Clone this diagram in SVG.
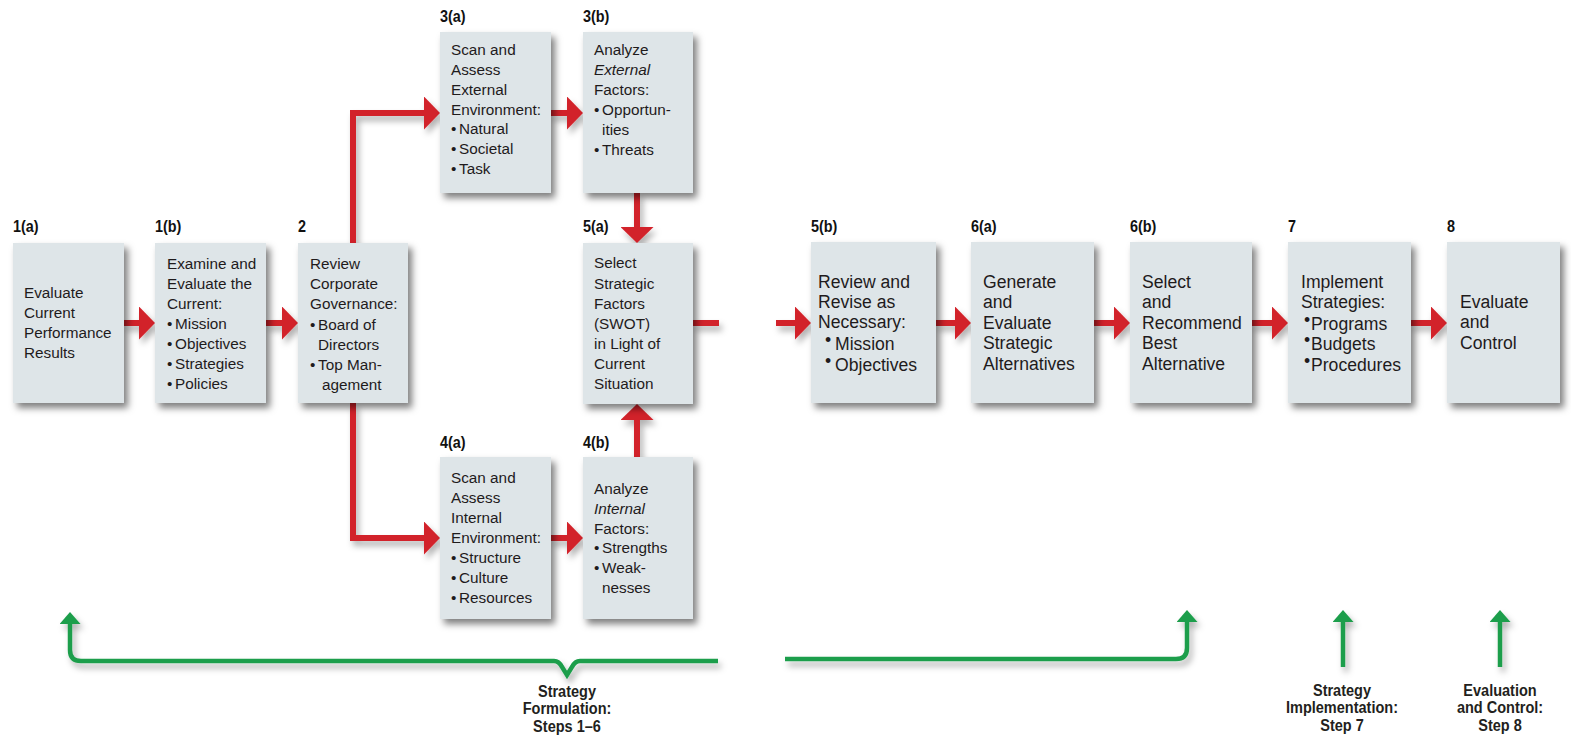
<svg xmlns="http://www.w3.org/2000/svg" width="1571" height="744" viewBox="0 0 1571 744">
<style>
.box{fill:#dee5e8}
.t{font-family:"Liberation Sans",Arial,sans-serif;font-size:15.3px;fill:#1f1b1c}
.tr{font-family:"Liberation Sans",Arial,sans-serif;font-size:17.6px;fill:#1f1b1c}
.lb{font-family:"Liberation Sans",Arial,sans-serif;font-size:16px;font-weight:bold;fill:#111}
.cap{font-family:"Liberation Sans",Arial,sans-serif;font-size:16.5px;font-weight:bold;fill:#231f20;text-anchor:middle}
.red{stroke:#d2232a;stroke-width:6;fill:none}
.grn{stroke:#1c9e4b;stroke-width:4.5;fill:none}
</style>
<defs>
<filter id="sh" filterUnits="userSpaceOnUse" x="0" y="0" width="1571" height="744">
<feDropShadow dx="4" dy="5" stdDeviation="3.5" flood-color="#000" flood-opacity="0.5"/>
</filter>
<filter id="lsh" filterUnits="userSpaceOnUse" x="0" y="0" width="1571" height="744">
<feDropShadow dx="3" dy="5" stdDeviation="3" flood-color="#000" flood-opacity="0.3"/>
</filter>
<marker id="rh" viewBox="0 0 16 33" refX="2" refY="16.5" markerWidth="16" markerHeight="33" markerUnits="userSpaceOnUse" orient="auto">
<path d="M0,0 L16,16.5 L0,33 z" fill="#d2232a"/>
</marker>
<marker id="gh" viewBox="0 0 12 21" refX="2" refY="10.5" markerWidth="12" markerHeight="21" markerUnits="userSpaceOnUse" orient="auto">
<path d="M0,0 L12,10.5 L0,21 z" fill="#1c9e4b"/>
</marker>
</defs>
<rect width="1571" height="744" fill="#fff"/>

<g id="connectors" filter="url(#lsh)">
<path class="red" d="M124,323 L141,323" marker-end="url(#rh)"/>
<path class="red" d="M266,323 L284,323" marker-end="url(#rh)"/>
<path class="red" d="M353,243 L353,113 L426,113" marker-end="url(#rh)"/>
<path class="red" d="M353,403 L353,538 L426,538" marker-end="url(#rh)"/>
<path class="red" d="M551,113 L569,113" marker-end="url(#rh)"/>
<path class="red" d="M551,538 L569,538" marker-end="url(#rh)"/>
<path class="red" d="M637,193 L637,229" marker-end="url(#rh)"/>
<path class="red" d="M637,457 L637,418" marker-end="url(#rh)"/>
<path class="red" d="M693,323 L719,323"/>
<path class="red" d="M776,323 L797,323" marker-end="url(#rh)"/>
<path class="red" d="M936,323 L957,323" marker-end="url(#rh)"/>
<path class="red" d="M1094,323 L1116,323" marker-end="url(#rh)"/>
<path class="red" d="M1252,323 L1274,323" marker-end="url(#rh)"/>
<path class="red" d="M1411,323 L1433,323" marker-end="url(#rh)"/>
<path class="grn" d="M718,661 L580,661 Q575,661 572,667 L567,675 L562,667 Q559,661 554,661 L81,661 Q70,661 70,650 L70,622" marker-end="url(#gh)"/>
<path class="grn" d="M785,659 L1176,659 Q1187,659 1187,648 L1187,620" marker-end="url(#gh)"/>
<path class="grn" d="M1343,667 L1343,620" marker-end="url(#gh)"/>
<path class="grn" d="M1500,667 L1500,620" marker-end="url(#gh)"/>
</g>

<g id="n1a">
<rect class="box" x="13" y="243" width="111" height="160" filter="url(#sh)"/>
<text class="lb" transform="translate(13,232) scale(0.9,1)">1(a)</text>
<text class="t"><tspan x="24" y="298">Evaluate</tspan><tspan x="24" y="318">Current</tspan><tspan x="24" y="338">Performance</tspan><tspan x="24" y="358">Results</tspan></text>
</g>
<g id="n1b">
<rect class="box" x="155" y="243" width="111" height="160" filter="url(#sh)"/>
<text class="lb" transform="translate(155,232) scale(0.9,1)">1(b)</text>
<text class="t"><tspan x="167" y="269">Examine and</tspan><tspan x="167" y="289">Evaluate the</tspan><tspan x="167" y="309">Current:</tspan><tspan x="167" y="329">•</tspan><tspan x="175" y="329">Mission</tspan><tspan x="167" y="349">•</tspan><tspan x="175" y="349">Objectives</tspan><tspan x="167" y="369">•</tspan><tspan x="175" y="369">Strategies</tspan><tspan x="167" y="389">•</tspan><tspan x="175" y="389">Policies</tspan></text>
</g>
<g id="n2">
<rect class="box" x="298" y="243" width="110" height="160" filter="url(#sh)"/>
<text class="lb" transform="translate(298,232) scale(0.9,1)">2</text>
<text class="t"><tspan x="310" y="269">Review</tspan><tspan x="310" y="289">Corporate</tspan><tspan x="310" y="309">Governance:</tspan><tspan x="310" y="330">•</tspan><tspan x="318" y="330">Board of</tspan><tspan x="318" y="350">Directors</tspan><tspan x="310" y="370">•</tspan><tspan x="318" y="370">Top Man-</tspan><tspan x="322" y="390">agement</tspan></text>
</g>
<g id="n3a">
<rect class="box" x="440" y="32" width="111" height="161" filter="url(#sh)"/>
<text class="lb" transform="translate(440,22) scale(0.9,1)">3(a)</text>
<text class="t"><tspan x="451" y="55">Scan and</tspan><tspan x="451" y="75">Assess</tspan><tspan x="451" y="95">External</tspan><tspan x="451" y="115">Environment:</tspan><tspan x="451" y="134">•</tspan><tspan x="459" y="134">Natural</tspan><tspan x="451" y="154">•</tspan><tspan x="459" y="154">Societal</tspan><tspan x="451" y="174">•</tspan><tspan x="459" y="174">Task</tspan></text>
</g>
<g id="n3b">
<rect class="box" x="583" y="32" width="110" height="161" filter="url(#sh)"/>
<text class="lb" transform="translate(583,22) scale(0.9,1)">3(b)</text>
<text class="t"><tspan x="594" y="55">Analyze</tspan><tspan x="594" y="75" font-style="italic">External</tspan><tspan x="594" y="95">Factors:</tspan><tspan x="594" y="115">•</tspan><tspan x="602" y="115">Opportun-</tspan><tspan x="602" y="135">ities</tspan><tspan x="594" y="155">•</tspan><tspan x="602" y="155">Threats</tspan></text>
</g>
<g id="n5a">
<rect class="box" x="583" y="243" width="110" height="161" filter="url(#sh)"/>
<text class="lb" transform="translate(583,232) scale(0.9,1)">5(a)</text>
<text class="t"><tspan x="594" y="268">Select</tspan><tspan x="594" y="289">Strategic</tspan><tspan x="594" y="309">Factors</tspan><tspan x="594" y="329">(SWOT)</tspan><tspan x="594" y="349">in Light of</tspan><tspan x="594" y="369">Current</tspan><tspan x="594" y="389">Situation</tspan></text>
</g>
<g id="n4a">
<rect class="box" x="440" y="457" width="111" height="162" filter="url(#sh)"/>
<text class="lb" transform="translate(440,448) scale(0.9,1)">4(a)</text>
<text class="t"><tspan x="451" y="483">Scan and</tspan><tspan x="451" y="503">Assess</tspan><tspan x="451" y="523">Internal</tspan><tspan x="451" y="543">Environment:</tspan><tspan x="451" y="563">•</tspan><tspan x="459" y="563">Structure</tspan><tspan x="451" y="583">•</tspan><tspan x="459" y="583">Culture</tspan><tspan x="451" y="603">•</tspan><tspan x="459" y="603">Resources</tspan></text>
</g>
<g id="n4b">
<rect class="box" x="583" y="457" width="110" height="162" filter="url(#sh)"/>
<text class="lb" transform="translate(583,448) scale(0.9,1)">4(b)</text>
<text class="t"><tspan x="594" y="494">Analyze</tspan><tspan x="594" y="514" font-style="italic">Internal</tspan><tspan x="594" y="534">Factors:</tspan><tspan x="594" y="553">•</tspan><tspan x="602" y="553">Strengths</tspan><tspan x="594" y="573">•</tspan><tspan x="602" y="573">Weak-</tspan><tspan x="602" y="593">nesses</tspan></text>
</g>
<g id="n5b">
<rect class="box" x="811" y="242" width="125" height="161" filter="url(#sh)"/>
<text class="lb" transform="translate(811,232) scale(0.9,1)">5(b)</text>
<text class="tr"><tspan x="818" y="288">Review and</tspan><tspan x="818" y="308">Revise as</tspan><tspan x="818" y="328">Necessary:</tspan><tspan x="825" y="346">•</tspan><tspan x="835" y="350">Mission</tspan><tspan x="825" y="367">•</tspan><tspan x="835" y="371">Objectives</tspan></text>
</g>
<g id="n6a">
<rect class="box" x="971" y="242" width="123" height="161" filter="url(#sh)"/>
<text class="lb" transform="translate(971,232) scale(0.9,1)">6(a)</text>
<text class="tr"><tspan x="983" y="288">Generate</tspan><tspan x="983" y="308">and</tspan><tspan x="983" y="329">Evaluate</tspan><tspan x="983" y="349">Strategic</tspan><tspan x="983" y="370">Alternatives</tspan></text>
</g>
<g id="n6b">
<rect class="box" x="1130" y="242" width="122" height="161" filter="url(#sh)"/>
<text class="lb" transform="translate(1130,232) scale(0.9,1)">6(b)</text>
<text class="tr"><tspan x="1142" y="288">Select</tspan><tspan x="1142" y="308">and</tspan><tspan x="1142" y="329">Recommend</tspan><tspan x="1142" y="349">Best</tspan><tspan x="1142" y="370">Alternative</tspan></text>
</g>
<g id="n7">
<rect class="box" x="1288" y="242" width="123" height="161" filter="url(#sh)"/>
<text class="lb" transform="translate(1288,232) scale(0.9,1)">7</text>
<text class="tr"><tspan x="1301" y="288">Implement</tspan><tspan x="1301" y="308">Strategies:</tspan><tspan x="1304" y="326">•</tspan><tspan x="1311" y="330">Programs</tspan><tspan x="1304" y="346">•</tspan><tspan x="1311" y="350">Budgets</tspan><tspan x="1304" y="367">•</tspan><tspan x="1311" y="371">Procedures</tspan></text>
</g>
<g id="n8">
<rect class="box" x="1447" y="242" width="113" height="161" filter="url(#sh)"/>
<text class="lb" transform="translate(1447,232) scale(0.9,1)">8</text>
<text class="tr"><tspan x="1460" y="308">Evaluate</tspan><tspan x="1460" y="328">and</tspan><tspan x="1460" y="349">Control</tspan></text>
</g>

<g id="cap-formulation">
<text class="cap" transform="translate(567,0) scale(0.88,1)"><tspan x="0" y="697">Strategy</tspan><tspan x="0" y="714.5">Formulation:</tspan><tspan x="0" y="732">Steps 1–6</tspan></text>
</g>
<g id="cap-implementation">
<text class="cap" transform="translate(1342,0) scale(0.88,1)"><tspan x="0" y="696">Strategy</tspan><tspan x="0" y="713.5">Implementation:</tspan><tspan x="0" y="731">Step 7</tspan></text>
</g>
<g id="cap-evaluation">
<text class="cap" transform="translate(1500,0) scale(0.88,1)"><tspan x="0" y="696">Evaluation</tspan><tspan x="0" y="713.5">and Control:</tspan><tspan x="0" y="731">Step 8</tspan></text>
</g>
</svg>
